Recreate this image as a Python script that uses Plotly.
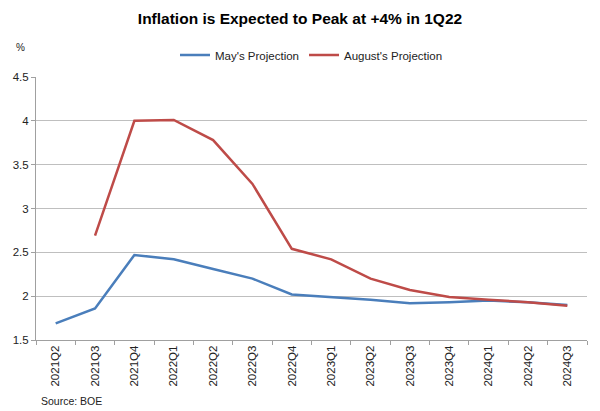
import plotly.graph_objects as go

quarters = ["2021Q2", "2021Q3", "2021Q4", "2022Q1", "2022Q2", "2022Q3", "2022Q4",
            "2023Q1", "2023Q2", "2023Q3", "2023Q4", "2024Q1", "2024Q2", "2024Q3"]
may_proj = [1.69, 1.86, 2.47, 2.42, 2.31, 2.20, 2.02, 1.99, 1.96, 1.92, 1.93, 1.95, 1.93, 1.90]
aug_proj = [None, 2.69, 4.00, 4.01, 3.78, 3.28, 2.54, 2.42, 2.20, 2.07, 1.99, 1.96, 1.93, 1.89]

font = "Liberation Sans, Arial, sans-serif"
fig = go.Figure()
fig.add_trace(go.Scatter(x=quarters, y=may_proj, mode="lines", name="May's Projection",
                         line=dict(color="#4A7EBB", width=2.5)))
fig.add_trace(go.Scatter(x=quarters, y=aug_proj, mode="lines", name="August's Projection",
                         line=dict(color="#BE4B48", width=2.5)))

fig.update_layout(
    width=600, height=411,
    margin=dict(l=36, r=13, t=77, b=71, autoexpand=False),
    paper_bgcolor="white", plot_bgcolor="white",
    font=dict(family=font, size=11, color="#222"),
    title=dict(text="<b>Inflation is Expected to Peak at +4% in 1Q22</b>",
               x=0.5, xanchor="center", yref="container", y=1 - 19 / 411, yanchor="middle",
               font=dict(size=15.5, color="#000", family=font)),
    legend=dict(orientation="h", x=0.5, xanchor="center",
                yref="container", y=1 - 55 / 411, yanchor="middle",
                font=dict(size=11.5, color="#222"), itemwidth=30, tracegroupgap=0),
    showlegend=True,
)
fig.update_xaxes(type="category", range=[-0.5, len(quarters) - 0.5], tickangle=-90, showgrid=False,
                 showline=True, linecolor="#A0A0A0", linewidth=1,
                 ticks="outside", tickson="boundaries", ticklen=4, tickcolor="#A0A0A0",
                 tickfont=dict(size=11.5, color="#222"), automargin=False)
fig.update_yaxes(range=[1.5, 4.5], dtick=0.5, showgrid=True, gridcolor="#BFBFBF", gridwidth=1,
                 showline=True, linecolor="#A0A0A0", linewidth=1,
                 ticks="outside", ticklen=4, tickcolor="#A0A0A0",
                 tickfont=dict(size=11.5, color="#222"), zeroline=False, automargin=False)

fig.add_annotation(text="%", xref="paper", yref="paper", x=-0.029, y=1.114,
                   showarrow=False, font=dict(size=10, color="#222"), xanchor="center",
                   yanchor="middle")
fig.add_annotation(text="Source: BOE", xref="paper", yref="paper", x=0.005, y=-0.232,
                   xanchor="left", yanchor="middle", showarrow=False,
                   font=dict(size=10.5, color="#222"))

fig.write_html("out.html", config={"displayModeBar": False},
               post_script="document.body.style.margin='0';document.body.style.padding='0';")
